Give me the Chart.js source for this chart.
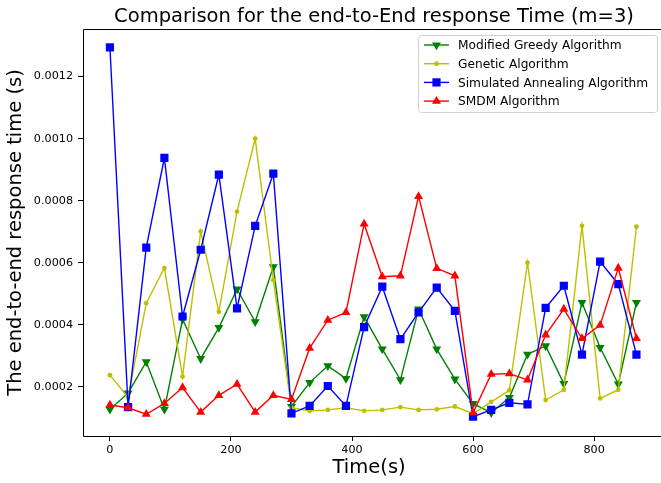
<!DOCTYPE html>
<html>
<head>
<meta charset="utf-8">
<script src="https://cdn.jsdelivr.net/npm/chart.js@4.4.0/dist/chart.umd.min.js"></script>
<style>
  html, body { margin: 0; padding: 0; background: #fff; overflow: hidden; }
  #wrap { width: 661px; height: 483px; }
</style>
</head>
<body>
<div id="wrap"><canvas id="chart" width="661" height="483"></canvas></div>
<script>
// time points (s)
const xValues = [0, 30, 60, 90, 120, 150, 180, 210, 240, 270, 300, 330, 360, 390, 420,
                 450, 480, 510, 540, 570, 600, 630, 660, 690, 720, 750, 780, 810, 840, 870];

// series values
const greedy = [0.000128, 0.000180, 0.000281, 0.000128, 0.000418, 0.000291, 0.000391, 0.000515, 0.000410, 0.000587,
                0.000137, 0.000214, 0.000268, 0.000227, 0.000426, 0.000322, 0.000223, 0.000451, 0.000322, 0.000225,
                0.000146, 0.000117, 0.000166, 0.000305, 0.000332, 0.000211, 0.000472, 0.000327, 0.000209, 0.000472];
const genetic = [0.000238, 0.000166, 0.000470, 0.000583, 0.000233, 0.000701, 0.000442, 0.000765, 0.001000, 0.000544,
                 0.000133, 0.000123, 0.000126, 0.000133, 0.000123, 0.000126, 0.000135, 0.000126, 0.000128, 0.000137,
                 0.000114, 0.000152, 0.000189, 0.000600, 0.000158, 0.000191, 0.000719, 0.000163, 0.000191, 0.000716];
const annealing = [0.001294, 0.000135, 0.000649, 0.000938, 0.000427, 0.000642, 0.000884, 0.000453, 0.000719, 0.000887,
                   0.000115, 0.000139, 0.000203, 0.000139, 0.000393, 0.000523, 0.000354, 0.000440, 0.000520, 0.000445,
                   0.000104, 0.000126, 0.000149, 0.000144, 0.000455, 0.000526, 0.000304, 0.000604, 0.000531, 0.000304];
const smdm = [0.000142, 0.000133, 0.000112, 0.000147, 0.000198, 0.000119, 0.000173, 0.000209, 0.000119, 0.000173,
              0.000160, 0.000325, 0.000415, 0.000440, 0.000725, 0.000555, 0.000558, 0.000814, 0.000582, 0.000558,
              0.000117, 0.000241, 0.000243, 0.000223, 0.000368, 0.000451, 0.000356, 0.000399, 0.000583, 0.000356];

// tick labels
const xTicks = [0, 200, 400, 600, 800];
const yTicks = [0.0002, 0.0004, 0.0006, 0.0008, 0.0010, 0.0012];

const titleText = 'Comparison for the end-to-End response Time (m=3)';
const xLabel = 'Time(s)';
const yLabel = 'The end-to-end response time (s)';

const FONT = "'DejaVu Sans', sans-serif";

function toPoints(values) {
    return values.map((v, i) => ({ x: xValues[i], y: v }));
}

const series = [
    { label: 'Modified Greedy Algorithm', values: greedy, color: '#008000', style: 'triangle', rot: 180, r: 5.2, order: 3 },
    { label: 'Genetic Algorithm', values: genetic, color: '#bfbf00', style: 'circle', rot: 0, r: 2.4, order: 2 },
    { label: 'Simulated Annealing Algorithm', values: annealing, color: '#0000ff', style: 'rect', rot: 0, r: 5.8, order: 1 },
    { label: 'SMDM Algorithm', values: smdm, color: '#ff0000', style: 'triangle', rot: 0, r: 5.2, order: 0 }
];

const datasets = series.map(s => ({
    label: s.label,
    data: toPoints(s.values),
    borderColor: s.color,
    backgroundColor: s.color,
    borderWidth: 1.4,
    pointStyle: s.style,
    pointRotation: s.rot,
    pointRadius: s.r,
    pointBorderWidth: 0,
    tension: 0,
    order: s.order
}));

// title, frame and matplotlib-like legend box
// the source axes box runs past the right edge of the image, so top/bottom spines go to the edge
const decorations = {
    id: 'decorations',
    afterDraw(chart) {
        const ctx = chart.ctx;
        const a = chart.chartArea;
        const w = chart.width;
        const left = Math.round(a.left) + 0.5;
        const top = Math.round(a.top) + 0.5;
        const bottom = Math.round(a.bottom) + 0.5;
        ctx.save();
        ctx.strokeStyle = '#000';
        ctx.lineWidth = 1;
        ctx.beginPath();
        ctx.moveTo(w, top);
        ctx.lineTo(left, top);
        ctx.lineTo(left, bottom);
        ctx.lineTo(w, bottom);
        ctx.stroke();

        ctx.fillStyle = '#000';
        ctx.font = '19.5px ' + FONT;
        ctx.textAlign = 'center';
        ctx.textBaseline = 'alphabetic';
        ctx.fillText(titleText, 374, 21.5);

        // legend
        const bx = 418, by = 35, bw = 239, bh = 77;
        ctx.fillStyle = 'rgba(255,255,255,0.8)';
        ctx.strokeStyle = '#d0d0d0';
        ctx.beginPath();
        ctx.roundRect(bx + 0.5, by + 0.5, bw, bh, 3);
        ctx.fill();
        ctx.stroke();

        ctx.font = '12.2px ' + FONT;
        ctx.textAlign = 'left';
        ctx.textBaseline = 'middle';
        series.forEach((s, i) => {
            const y = 45 + i * 18.7;
            ctx.strokeStyle = s.color;
            ctx.lineWidth = 1.4;
            ctx.beginPath();
            ctx.moveTo(424, y);
            ctx.lineTo(449, y);
            ctx.stroke();
            ctx.fillStyle = s.color;
            Chart.helpers.drawPoint(ctx, { pointStyle: s.style, rotation: s.rot, radius: s.r, borderWidth: 0 }, 436.5, y);
            ctx.fillStyle = '#000';
            ctx.fillText(s.label, 458, y + 1);
        });
        ctx.restore();
    }
};

const config = {
    type: 'line',
    data: { datasets: datasets },
    options: {
        responsive: false,
        animation: false,
        layout: { padding: { top: 29, right: 2, left: 0, bottom: 0 } },
        plugins: {
            legend: { display: false },
            title: { display: false },
            tooltip: { enabled: false }
        },
        scales: {
            x: {
                type: 'linear',
                min: -44.5,
                max: 901,
                afterFit: scale => { scale.height = 47; },
                afterBuildTicks: scale => { scale.ticks = xTicks.map(v => ({ value: v })); },
                grid: { drawOnChartArea: false, drawTicks: true, tickLength: 5, color: '#000' },
                border: { display: false },
                ticks: { color: '#000', font: { family: FONT, size: 11.2 }, padding: 2, maxRotation: 0 },
                title: { display: true, text: xLabel, color: '#000', font: { family: FONT, size: 19.5 }, padding: { top: 2, bottom: 3 } }
            },
            y: {
                type: 'linear',
                min: 0.000042,
                max: 0.001353,
                afterFit: scale => { scale.width = 83; },
                afterBuildTicks: scale => { scale.ticks = yTicks.map(v => ({ value: v })); },
                grid: { drawOnChartArea: false, drawTicks: true, tickLength: 5, color: '#000' },
                border: { display: false },
                ticks: { color: '#000', font: { family: FONT, size: 11.2 }, padding: 5, callback: v => v.toFixed(4) },
                title: { display: true, text: yLabel, color: '#000', font: { family: FONT, size: 19.5 }, padding: { top: 4, bottom: 4 } }
            }
        }
    },
    plugins: [decorations]
};

new Chart(document.getElementById('chart'), config);
</script>
</body>
</html>
